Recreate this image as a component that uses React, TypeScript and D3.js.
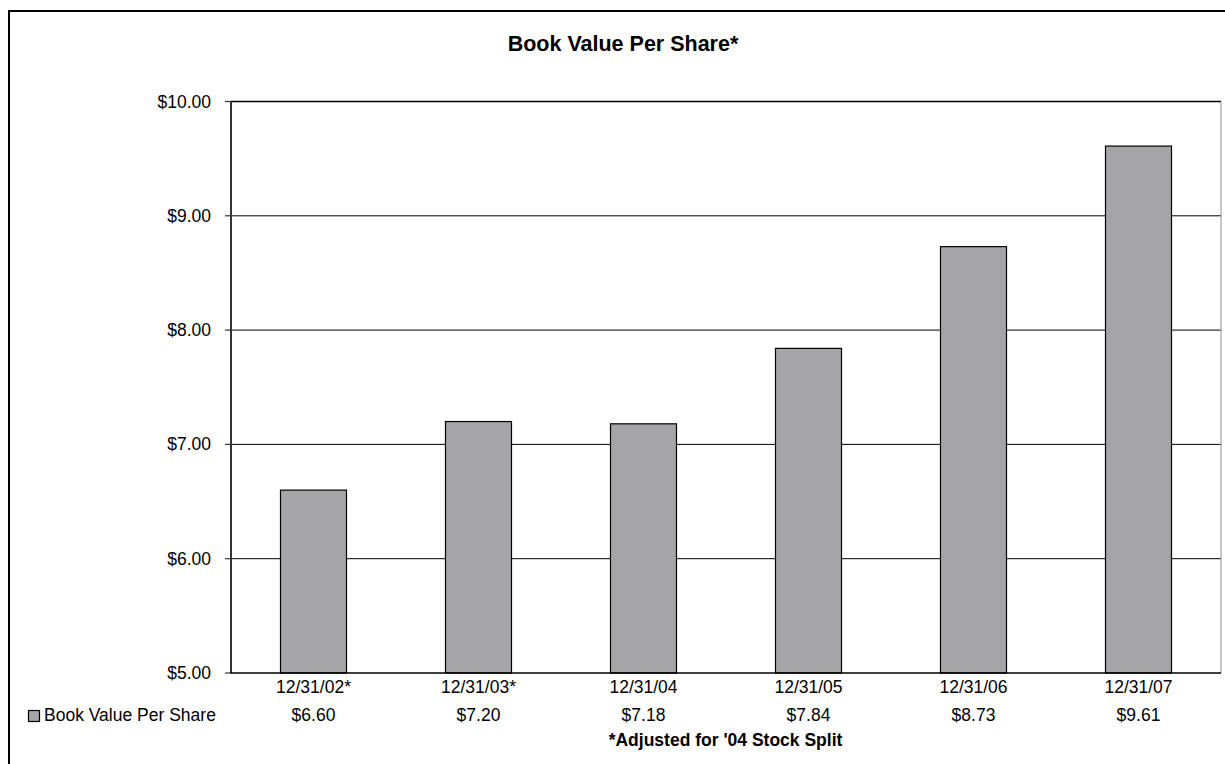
import React from "react";
import * as d3 from "d3";

const categories = ["12/31/02*", "12/31/03*", "12/31/04", "12/31/05", "12/31/06", "12/31/07"];
const bookValues = [6.6, 7.2, 7.18, 7.84, 8.73, 9.61];
const yTicks = [5, 6, 7, 8, 9, 10];
const seriesName = "Book Value Per Share";
const chartTitle = "Book Value Per Share*";
const footnote = "*Adjusted for '04 Stock Split";

const W = 1225;
const H = 764;
const FONT = "'Liberation Sans', Arial, Helvetica, sans-serif";

const plot = { left: 231, right: 1221, top: 101.5, bottom: 673 };

export default function App() {
  const x = d3
    .scaleBand<string>()
    .domain(categories)
    .range([plot.left, plot.right])
    .paddingInner(0.6)
    .paddingOuter(0.3);
  const y = d3.scaleLinear().domain([5, 10]).range([plot.bottom, plot.top]);
  const money = (v: number) => "$" + d3.format(".2f")(v);
  const center = (c: string) => (x(c) as number) + x.bandwidth() / 2;

  return (
    <svg
      width={W}
      height={H}
      viewBox={`0 0 ${W} ${H}`}
      style={{ position: "absolute", left: 0, top: 0, background: "#fff" }}
      fontFamily={FONT}
    >
      <rect x={0} y={0} width={W} height={H} fill="#fff" />
      {/* chart frame */}
      <rect x={9} y={11} width={W + 20} height={H + 20} fill="none" stroke="#000" strokeWidth={2} />

      <text x={623} y={50.5} textAnchor="middle" fontSize={21.5} fontWeight="bold" fill="#000">
        {chartTitle}
      </text>

      {/* gridlines */}
      {yTicks.filter((t) => t !== 5 && t !== 10).map((t) => (
        <line key={t} x1={plot.left} x2={plot.right} y1={y(t)} y2={y(t)} stroke="#000" strokeWidth={1} />
      ))}
      <line x1={plot.left} x2={plot.right} y1={y(10)} y2={y(10)} stroke="#000" strokeWidth={1.4} />
      <line x1={plot.right} x2={plot.right} y1={y(10)} y2={plot.bottom} stroke="#8c8c8c" strokeWidth={1} />

      {/* bars */}
      {categories.map((c, i) => (
        <rect
          key={c}
          x={x(c)}
          y={y(bookValues[i])}
          width={x.bandwidth()}
          height={plot.bottom - y(bookValues[i])}
          fill="#a5a5a7"
          stroke="#000"
          strokeWidth={1.2}
        />
      ))}

      {/* axes */}
      <line x1={plot.left} x2={plot.left} y1={y(10)} y2={plot.bottom} stroke="#333" strokeWidth={2} />
      <line x1={plot.left - 1} x2={plot.right} y1={plot.bottom} y2={plot.bottom} stroke="#000" strokeWidth={1.6} />
      {yTicks.map((t) => (
        <g key={t}>
          <line x1={plot.left - 6} x2={plot.left} y1={y(t)} y2={y(t)} stroke="#333" strokeWidth={1.2} />
          <text x={211} y={y(t) + 6} textAnchor="end" fontSize={17.5} fill="#000">
            {money(t)}
          </text>
        </g>
      ))}

      {/* data table */}
      {categories.map((c, i) => (
        <g key={c}>
          <text x={center(c)} y={692.5} textAnchor="middle" fontSize={17.5} fill="#000">
            {c}
          </text>
          <text x={center(c)} y={720.5} textAnchor="middle" fontSize={17.5} fill="#000">
            {money(bookValues[i])}
          </text>
        </g>
      ))}
      <rect x={28.5} y={710.5} width={11} height={11} fill="#a5a5a7" stroke="#000" strokeWidth={1.2} />
      <text x={44} y={720.5} fontSize={17.5} fill="#000">
        {seriesName}
      </text>

      <text x={725.5} y={745.5} textAnchor="middle" fontSize={17.5} fontWeight="bold" fill="#000">
        {footnote}
      </text>
    </svg>
  );
}
